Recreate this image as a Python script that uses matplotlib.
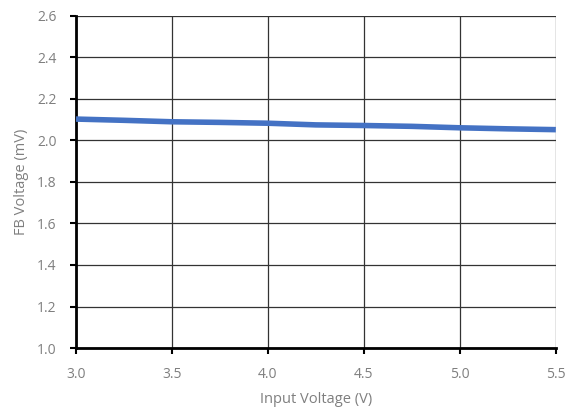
import matplotlib
matplotlib.use("Agg")
import matplotlib.pyplot as plt

plt.rcParams['font.family'] = ['Open Sans', 'DejaVu Sans']

vin = [3.0, 3.25, 3.5, 3.75, 4.0, 4.25, 4.5, 4.75, 5.0, 5.25, 5.5]
vfb = [2.103, 2.097, 2.090, 2.087, 2.083, 2.075, 2.072, 2.068, 2.061, 2.056, 2.052]

xticks = [3.0, 3.5, 4.0, 4.5, 5.0, 5.5]
yticks = [1.0, 1.2, 1.4, 1.6, 1.8, 2.0, 2.2, 2.4, 2.6]

fig = plt.figure(figsize=(5.76, 4.08), dpi=100)
ax = fig.add_axes([0.132, 0.147, 0.833, 0.814])

ax.plot(vin, vfb, color='#4472C4', linewidth=4, solid_capstyle='butt', zorder=3)

ax.set_xlim(3.0, 5.5)
ax.set_ylim(1.0, 2.6)
ax.set_xticks(xticks)
ax.set_yticks(yticks)
ax.set_xticklabels([f"{t:.1f}" for t in xticks])
ax.set_yticklabels([f"{t:.1f}" for t in yticks])

ax.grid(True, color='#333333', linewidth=0.9)
ax.set_axisbelow(True)

for s in ['top', 'right']:
    ax.spines[s].set_visible(False)
for s in ['left', 'bottom']:
    ax.spines[s].set_linewidth(2)
    ax.spines[s].set_color('black')

ax.tick_params(axis='both', direction='out', length=4, width=1.5, color='black',
               labelcolor='#7f7f7f', labelsize=10)
ax.tick_params(axis='x', pad=10)
ax.tick_params(axis='y', pad=10)

ax.set_xlabel("Input Voltage (V)", color='#7f7f7f', fontsize=10.5, labelpad=7)
ax.set_ylabel("FB Voltage (mV)", color='#7f7f7f', fontsize=10.5, labelpad=6)

fig.savefig("out.png", dpi=100)
